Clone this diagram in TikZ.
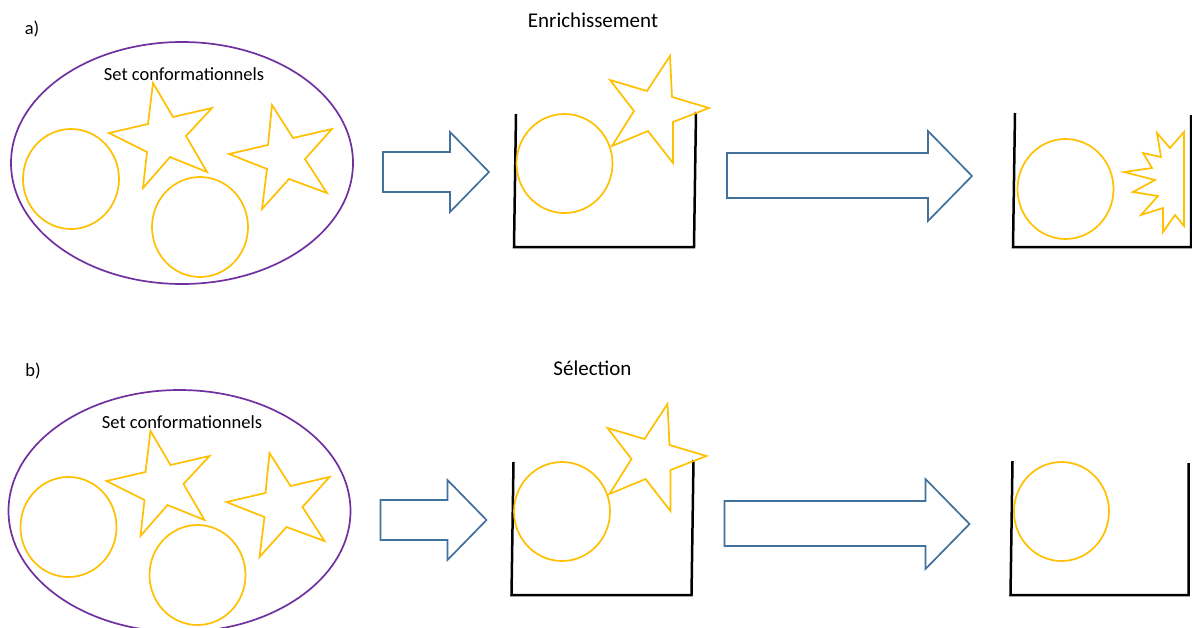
\documentclass[tikz,border=0pt]{standalone}
\usepackage{fontspec}
\setmainfont{Carlito}
\definecolor{molcol}{HTML}{FFC000}
\definecolor{setcol}{HTML}{7030A0}
\definecolor{arrcol}{HTML}{41719C}
\tikzset{
  mol/.style={draw=molcol, line width=1.7pt, line join=miter},
  setline/.style={draw=setcol, line width=1.7pt},
  blockarrow/.style={draw=arrcol, line width=1.7pt, line join=miter},
  beaker/.style={draw=black, line width=2.5pt, line join=miter},
  titletext/.style={font=\fontsize{21}{25}\selectfont, text=black},
  settext/.style={font=\fontsize{18.5}{22}\selectfont, text=black},
}
\newcommand\convpanel{%
  \draw[setline] (182,163) ellipse [x radius=171pt, y radius=121pt];
  \draw[mol] (71,179) ellipse [x radius=48pt, y radius=50pt];
  \draw[mol] (200,227) ellipse [x radius=48pt, y radius=50pt];
  \draw[mol] (153,83) -- (173,117) -- (212,108) -- (186,136) -- (207,172) -- (170,157) -- (143,188) -- (147,152) -- (109,133) -- (148,124) -- cycle;
  \draw[mol] (272,105) -- (293,138) -- (332,129) -- (305,159) -- (327,193) -- (289,179) -- (262,209) -- (267,169) -- (229,154) -- (268,145) -- cycle;
  \draw[blockarrow] (383,152) -- (450,152) -- (450,132) -- (489,172) -- (450,212) -- (450,192) -- (383,192) -- cycle;
  \draw[beaker] (516,114) -- (514,247) -- (694,247) -- (696,112);
  \draw[mol] (564.5,163.5) ellipse [x radius=48pt, y radius=49.5pt];
  \draw[mol] (670,56) -- (672,97) -- (709,108) -- (673,122) -- (673,163) -- (648,131) -- (612,146) -- (634,111) -- (610,80) -- (647,91) -- cycle;
  \draw[blockarrow] (727,153) -- (928,153) -- (928,131) -- (972,176) -- (928,221) -- (928,198) -- (727,198) -- cycle;
  \draw[beaker] (1015,113) -- (1013,247) -- (1191,247) -- (1191,115);
}
\begin{document}
\begin{tikzpicture}[x=1pt,y=-1pt]
\useasboundingbox (0,0) rectangle (1192,627);
\clip (0,0) rectangle (1192,627);
\fill[white] (0,0) rectangle (1192,627);
% panel a
\convpanel
\draw[mol] (1065.5,189) ellipse [x radius=48pt, y radius=50pt];
\draw[mol] (1157,133) -- (1170,148) -- (1184,132) -- (1184,226) -- (1175,215) -- (1163,232) -- (1163,208) -- (1141,215) -- (1158,196) -- (1133,192) -- (1155,180) -- (1124,172) -- (1152,168) -- (1143,153) -- (1161,157) -- cycle;
\node[settext] (la) at (32,29) {a)};
\node[titletext] (ta) at (593,20) {Enrichissement};
\node[settext] (sa) at (184,74) {Set conformationnels};
% panel b
\begin{scope}[shift={(-2.5,348)}]
\convpanel
\end{scope}
\draw[mol] (1061.5,511.5) ellipse [x radius=47.5pt, y radius=49.5pt];
\node[settext] (lb) at (33,371) {b)};
\node[titletext] (tb) at (592.5,368) {Sélection};
\node[settext] (sb) at (182,422) {Set conformationnels};
\end{tikzpicture}
\end{document}
